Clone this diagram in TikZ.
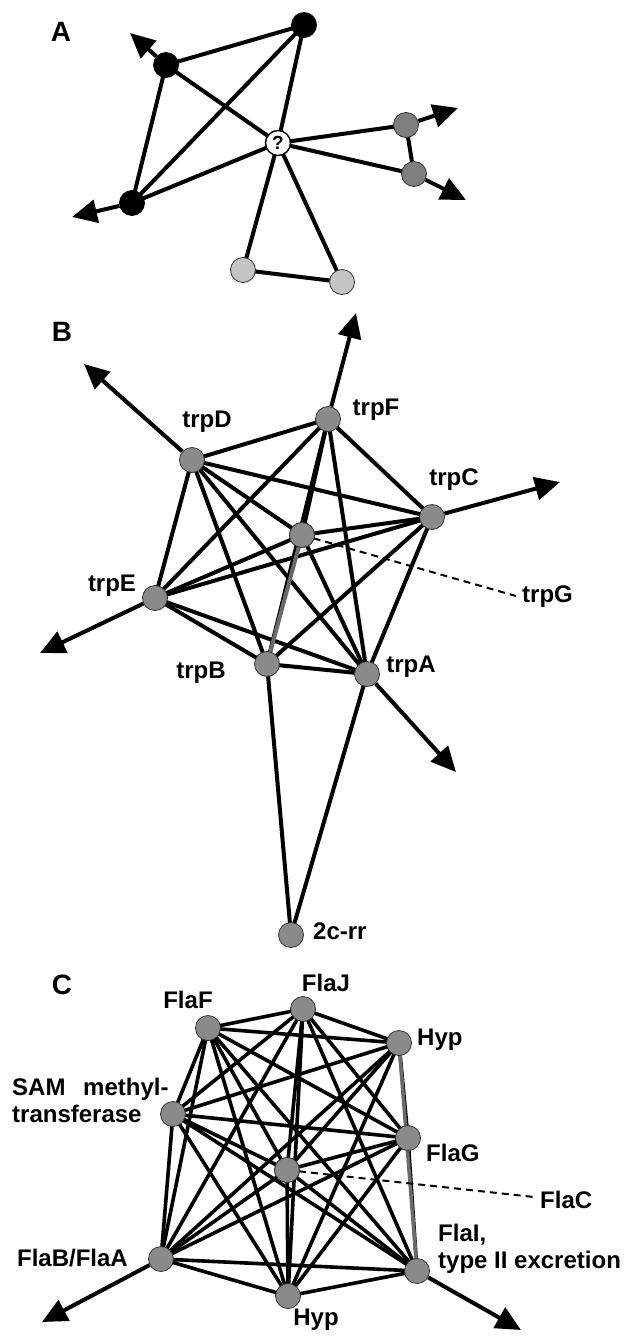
\documentclass[tikz,border=0pt]{standalone}
\usepackage{fontspec}
\setmainfont{Liberation Sans}
\usetikzlibrary{arrows.meta}
\pgfdeclarelayer{bg}
\pgfsetlayers{bg,main}
\definecolor{ndgray}{HTML}{8A8A8A}
\definecolor{agray}{HTML}{7E7E7E}
\definecolor{lgray}{HTML}{C4C4C4}
\definecolor{edgegray}{HTML}{6A6A6A}
\begin{document}
\begin{tikzpicture}[x=1pt,y=-1pt,
  base/.style={circle,inner sep=0pt,minimum size=25pt,line width=0.8pt,draw=black!80},
  blk/.style={base,fill=black,draw=black},
  qn/.style={base,fill=white,draw=black,line width=1.4pt,font=\fontsize{19}{19}\selectfont\bfseries},
  gA/.style={base,fill=agray},
  lA/.style={base,fill=lgray},
  gn/.style={base,fill=ndgray},
  lbl/.style={font=\fontsize{24}{27}\selectfont\bfseries,inner sep=0pt},
  plbl/.style={font=\fontsize{28}{30}\selectfont\bfseries,inner sep=0pt},
  ln/.style={line width=4pt,black},
  lnc/.style={line width=3.6pt,black},
  arr/.style={line width=4pt,-{Triangle[length=25pt,width=23pt]}},
  dsh/.style={line width=2pt,dash pattern=on 7pt off 5pt}]
\useasboundingbox (0,0) rectangle (625,1336);

% ---------------- Panel A ----------------
\node[plbl] (lA) at (61,32) {A};
\node[blk] (K1) at (304,25) {};
\node[blk] (K2) at (166,65) {};
\node[blk] (K3) at (132,203) {};
\node[qn] (Q) at (278,143) {?};
\node[gA] (G1) at (406,125) {};
\node[gA] (G2) at (414,174) {};
\node[lA] (L1) at (243,270) {};
\node[lA] (L2) at (342,282) {};
\coordinate (a1) at (130,33);
\coordinate (a2) at (72,217);
\coordinate (a3) at (458,108);
\coordinate (a4) at (466,200);
\begin{pgfonlayer}{bg}
  \foreach \u/\v in {K1/K2,K1/K3,K1/Q,K2/K3,K2/Q,K3/Q,Q/G1,Q/G2,G1/G2,Q/L1,Q/L2,L1/L2}
    \draw[ln] (\u.center) -- (\v.center);
  \draw[arr] (K2) -- (a1);
  \draw[arr] (K3) -- (a2);
  \draw[arr] (G1) -- (a3);
  \draw[arr] (G2) -- (a4);
\end{pgfonlayer}

% ---------------- Panel B ----------------
\node[plbl] (lB) at (62,332) {B};
\node[gn] (D) at (192,460) {};
\node[gn] (F) at (328,419) {};
\node[gn] (Cc) at (432,517) {};
\node[gn] (G) at (302,535) {};
\node[gn] (E) at (155,598) {};
\node[gn] (Bn) at (267,664) {};
\node[gn] (An) at (367,674) {};
\node[gn] (R) at (291,935) {};
\node[lbl] (tD) at (207,422) {trpD};
\node[lbl] (tF) at (376,410) {trpF};
\node[lbl] (tC) at (454,480) {trpC};
\node[lbl,anchor=west] (tG) at (522,597) {trpG};
\node[lbl] (tE) at (112,586) {trpE};
\node[lbl] (tB) at (201,673) {trpB};
\node[lbl] (tA) at (411,667) {trpA};
\node[lbl,anchor=west] (tR) at (313,931) {2c-rr};
\coordinate (b1) at (84,364);
\coordinate (b2) at (356,313);
\coordinate (b3) at (560,482);
\coordinate (b4) at (40,653);
\coordinate (b5) at (456,772);
\coordinate (gEnd) at (516,596);
\begin{pgfonlayer}{bg}
  \foreach \u/\v in {D/F,D/Cc,D/G,D/E,D/Bn,D/An,F/Cc,F/E,F/G,F/Bn,F/An,
                     Cc/G,Cc/E,Cc/Bn,Cc/An,G/E,G/An,E/Bn,E/An,Bn/An,Bn/R,An/R}
    \draw[ln] (\u.center) -- (\v.center);
  \draw[line width=4pt,edgegray] (G.center) -- (Bn.center);
  \draw[arr] (D) -- (b1);
  \draw[arr] (F) -- (b2);
  \draw[arr] (Cc) -- (b3);
  \draw[arr] (E) -- (b4);
  \draw[arr] (An) -- (b5);
\end{pgfonlayer}
\draw[dsh] (G.center) -- (gEnd);
\node[gn] at (G) {};

% ---------------- Panel C ----------------
\node[plbl] (lC) at (62,985) {C};
\node[gn] (FF) at (208,1028) {};
\node[gn] (FJ) at (303,1009) {};
\node[gn] (H1) at (399,1043) {};
\node[gn] (S) at (173,1114) {};
\node[gn] (FG) at (408,1138) {};
\node[gn] (FC) at (287,1170) {};
\node[gn] (FB) at (161,1259) {};
\node[gn] (FI) at (417,1271) {};
\node[gn] (H2) at (288,1296) {};
\node[lbl] (tFF) at (188,1000) {FlaF};
\node[lbl] (tFJ) at (326,983) {FlaJ};
\node[lbl,anchor=west] (tH1) at (417,1040) {Hyp};
\node[lbl,anchor=north west,align=left] (tS) at (12,1078) {SAM\hspace{11pt} methyl-\\transferase};
\node[lbl,anchor=west] (tFG) at (426,1153) {FlaG};
\node[lbl,anchor=west] (tFC) at (540,1200) {FlaC};
\node[lbl,anchor=east] (tFB) at (128,1258) {FlaB/FlaA};
\node[lbl,anchor=north west,align=left] (tFI) at (438,1224) {FlaI,\\type II excretion};
\node[lbl] (tH2) at (316,1320) {Hyp};
\coordinate (c1) at (42,1322);
\coordinate (c2) at (521,1330);
\coordinate (cEnd) at (534,1197);
\begin{pgfonlayer}{bg}
  \foreach \u/\v in {FF/FJ,FF/H1,FF/S,FF/FG,FF/FC,FF/FB,FF/FI,FF/H2,
                     FJ/H1,FJ/S,FJ/FG,FJ/FC,FJ/FB,FJ/FI,FJ/H2,
                     H1/S,H1/FG,H1/FC,H1/FB,H1/H2,
                     S/FG,S/FC,S/FB,S/FI,S/H2,
                     FG/FC,FG/FB,FG/FI,FG/H2,
                     FC/FB,FC/FI,FC/H2,
                     FB/FI,FB/H2,FI/H2}
    \draw[lnc] (\u.center) -- (\v.center);
  \draw[line width=3.6pt,edgegray] (H1.center) -- (FI.center);
  \draw[arr] (FB) -- (c1);
  \draw[arr] (FI) -- (c2);
\end{pgfonlayer}
\draw[dsh] (FC.center) -- (cEnd);
\node[gn] at (FC) {};
\end{tikzpicture}
\end{document}
